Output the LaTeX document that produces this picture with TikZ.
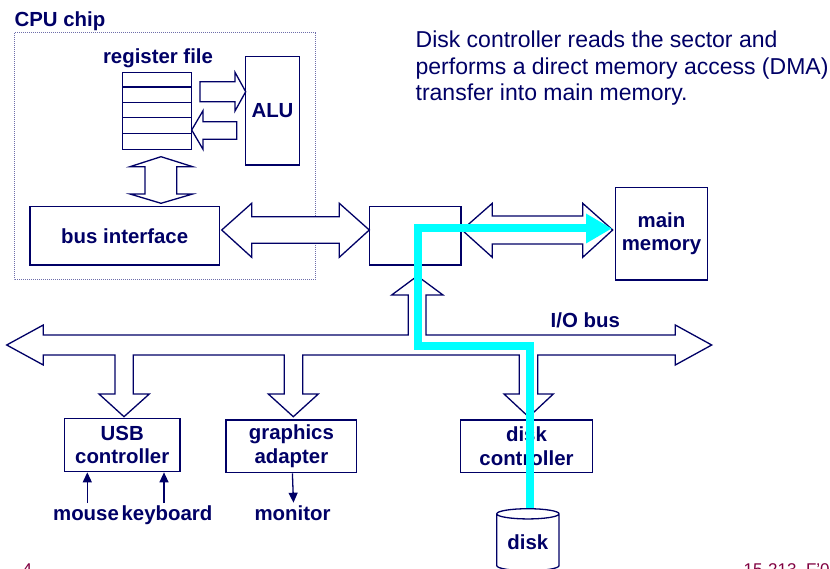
\documentclass[tikz,border=0pt]{standalone}
\usepackage{fontspec}
\setmainfont{Liberation Sans}
\usetikzlibrary{arrows.meta, shapes.geometric}

\definecolor{navy}{RGB}{0,0,102}
\definecolor{dma}{RGB}{0,255,255}
\definecolor{footred}{RGB}{128,0,64}
\definecolor{chipdots}{RGB}{110,110,170}
\newcommand{\lab}{\fontsize{20.4}{23.4}\selectfont\bfseries}

\begin{document}
\begin{tikzpicture}[
            x = 1pt, y = -1pt, % pixel grid of the slide
            line width = 1.3pt,
            box/.style = {draw=navy, fill=white, inner sep=0pt, text=navy, font=\lab, align=center},
            hollow/.style = {draw=navy, fill=white, line join=miter},
            ptr/.style = {draw=navy, -{Triangle[length=10pt, width=9pt]}},
            dmapath/.style = {draw=dma, line width=8pt, line join=miter, -{Triangle[length=26pt, width=28pt]}},
            lbl/.style = {text=navy, font=\lab, inner sep=0pt}
        ]
        \useasboundingbox (0,0) rectangle (830,569);
        \clip (0,0) rectangle (830,569);

        % cpu chip
        \draw[chipdots, line width=1pt, dash pattern=on 1pt off 1pt] (14,33) rectangle (315,280);
        \node[lbl, anchor=base west] (chip) at (14,27) {CPU chip};

        \node[lbl, anchor=base] (reglabel) at (158,64) {register file};
        \node[box, minimum width=69pt, minimum height=77pt] (regfile) at (157.2,110.8) {};
        \foreach \i in {1,...,4}
            \draw[navy] ([yshift=-15.4*\i pt]regfile.north west) -- ([yshift=-15.4*\i pt]regfile.north east);
        \node[box, minimum width=53.6pt, minimum height=108.3pt] (alu) at (272.5,110.85) {ALU};
        \node[box, minimum width=189.3pt, minimum height=58.3pt] (busif) at (124.7,235.8) {bus interface};

        \node[box, minimum width=91.7pt, minimum height=58.3pt] (bridge) at (415.2,235.8) {};
        \node[box, minimum width=91.6pt, minimum height=92.7pt] (mem) at (661.5,233.7) {main\\memory};

        % block arrows
        \draw[hollow] (200,81.7) -- (235,81.7) -- (235,72.3) -- (245.7,91.7) -- (235,111) -- (235,101.7) -- (200,101.7) -- cycle;
        \draw[hollow] (236.7,121.7) -- (203,121.7) -- (203,110.7) -- (191.7,130) -- (203,149.3) -- (203,139.3) -- (236.7,139.3) -- cycle;
        \draw[hollow] (161,156.7) -- (192.7,166.7) -- (176.7,166.7) -- (176.7,194) -- (192.7,194) -- (161,203.3)
            -- (130,194) -- (145,194) -- (145,166.7) -- (130,166.7) -- cycle;
        \draw[hollow] (221.7,230) -- (251.7,203.3) -- (251.7,216.7) -- (339.3,216.7) -- (339.3,203.3) -- (369.3,230)
            -- (339.3,257.3) -- (339.3,243.3) -- (251.7,243.3) -- (251.7,257.3) -- cycle;
        \draw[hollow] (462,230) -- (492.3,203.3) -- (492.3,216) -- (582.7,216) -- (582.7,203.3) -- (612.7,230)
            -- (582.7,257.3) -- (582.7,244) -- (492.3,244) -- (492.3,257.3) -- cycle;

        % i/o bus with its branches
        \draw[hollow] (6.7,345) -- (43.3,325) -- (43.3,335) -- (408.3,335) -- (408.3,295) -- (391.7,295) -- (417.3,276)
            -- (443,295) -- (426,295) -- (426,335) -- (675.3,335) -- (675.3,325) -- (711.7,345) -- (675.3,365) -- (675.3,355)
            -- (537.7,355) -- (537.7,394) -- (553.3,394) -- (528.7,417) -- (504,394) -- (519.3,394) -- (519.3,355)
            -- (302.7,355) -- (302.7,394) -- (318.3,394) -- (293.3,416.7) -- (268.3,394) -- (284.3,394) -- (284.3,355)
            -- (133.3,355) -- (133.3,394) -- (149.3,394) -- (124,416.7) -- (99,394) -- (115,394) -- (115,355)
            -- (43.3,355) -- (43.3,365) -- cycle;
        \node[lbl, anchor=base] (iobus) at (585.3,327.3) {I/O bus};

        \node[box, minimum width=115.7pt, minimum height=53.4pt] (usb) at (122.2,445) {USB\\controller};
        \node[box, minimum width=130.7pt, minimum height=52.7pt] (gfx) at (291.4,446.4) {graphics\\adapter};
        \node[box, minimum width=131.6pt, minimum height=52.7pt] (diskctl) at (526.5,446.4) {disk\\controller};

        \node[lbl, anchor=base] (mouse) at (86,520) {mouse};
        \node[lbl, anchor=base] (keyboard) at (167,520) {keyboard};
        \node[lbl, anchor=base] (monitor) at (292.5,520) {monitor};
        \draw[ptr] ([xshift=1.3pt, yshift=17pt]mouse.base) -- ([xshift=1.3pt]mouse.base |- usb.south);
        \draw[ptr] ([xshift=-3pt, yshift=17pt]keyboard.base) -- ([xshift=-3pt]keyboard.base |- usb.south);
        \draw[ptr] ([xshift=1pt]gfx.south) -- ([xshift=1pt, yshift=17.3pt]monitor.base);

        \node[cylinder, shape border rotate=90, aspect=0.25, draw=navy, fill=white, minimum width=62.3pt,
            minimum height=62pt, inner sep=0pt, text=navy, font=\lab] (disk) at (527.9,542.6) {disk};

        % text and footer
        \node[anchor=base west, text=navy, inner sep=0pt, align=left, font=\fontsize{23}{26.5}\selectfont] (note)
            at (415,101) {Disk controller reads the sector and\\performs a direct memory access (DMA)\\transfer into main memory.};
        \node[anchor=base west, text=footred, inner sep=0pt, font=\fontsize{17}{17}\selectfont] (pagenum) at (22,575) {4};
        \node[anchor=base west, text=footred, inner sep=0pt, font=\fontsize{17}{17}\selectfont] (course) at (743,575) {15-213, F'0};

        % dma transfer
        \coordinate (lowbend) at (529.7,346);
        \coordinate (highbend) at (417.7,346);
        \coordinate (dmaend) at (612,228.5);
        \draw[dmapath] (lowbend |- disk.north) -- (lowbend) -- (highbend) -- (highbend |- dmaend) -- (dmaend);
\end{tikzpicture}
\end{document}
